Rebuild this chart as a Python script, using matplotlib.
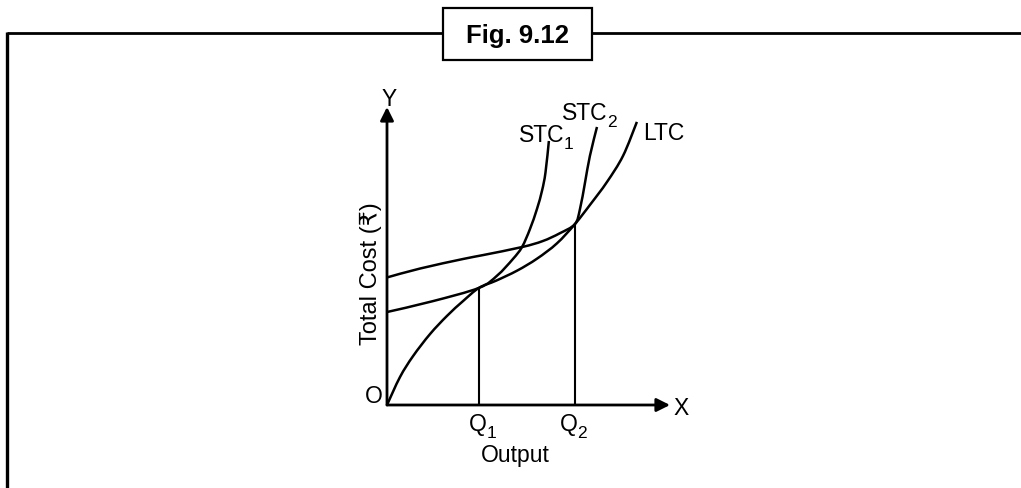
import matplotlib
matplotlib.use('Agg')
import matplotlib.pyplot as plt
from matplotlib.patches import Rectangle, PathPatch
from matplotlib.path import Path

plt.rcParams['font.family'] = ['Liberation Sans', 'DejaVu Sans']

# ---- data (output units on x, cost units on y) ----
ltc_x = [0.00, 0.46, 0.92, 1.52, 2.12, 2.69, 3.25, 3.85, 4.60, 5.30, 6.00, 6.64, 7.20, 7.77, 8.34, 8.83]
ltc_y = [0.00, 0.94, 1.64, 2.38, 2.99, 3.49, 3.93, 4.17, 4.51, 4.91, 5.42, 6.07, 6.75, 7.48, 8.36, 9.50]

stc1_x = [0.00, 1.60, 3.25, 3.90, 4.45, 4.77, 5.05, 5.30, 5.48, 5.60, 5.72]
stc1_y = [3.12, 3.48, 3.93, 4.35, 4.90, 5.30, 5.90, 6.58, 7.20, 7.80, 8.86]

stc2_x = [0.00, 1.17, 2.69, 3.39, 4.77, 5.50, 6.10, 6.64, 6.82, 7.00, 7.17, 7.42]
stc2_y = [4.28, 4.58, 4.90, 5.03, 5.30, 5.50, 5.76, 6.07, 6.58, 7.48, 8.36, 9.33]

q_x = [3.25, 6.64]          # Q1, Q2
q_y = [3.93, 6.07]          # tangency heights
q_names = ['Q', 'Q']
q_subs = ['1', '2']
curve_names = ['STC', 'STC', 'LTC']
curve_subs = ['1', '2', '']
title = 'Fig. 9.12'
ylabel = 'Total Cost (\u20b9)'
xlabel = 'Output'


def smooth_path(xs, ys):
    """Catmull-Rom curve through the points, expressed as cubic Bezier path."""
    pts = list(zip(xs, ys))
    n = len(pts)
    verts = [pts[0]]
    codes = [Path.MOVETO]
    for i in range(n - 1):
        p0 = pts[i - 1] if i > 0 else pts[i]
        p1 = pts[i]
        p2 = pts[i + 1]
        p3 = pts[i + 2] if i + 2 < n else pts[i + 1]
        c1 = (p1[0] + (p2[0] - p0[0]) / 6, p1[1] + (p2[1] - p0[1]) / 6)
        c2 = (p2[0] - (p3[0] - p1[0]) / 6, p2[1] - (p3[1] - p1[1]) / 6)
        verts += [c1, c2, p2]
        codes += [Path.CURVE4] * 3
    return Path(verts, codes)


W, H = 1021, 489
fig = plt.figure(figsize=(W / 100, H / 100), dpi=100)

# ---- frame overlay in pixel coordinates ----
fax = fig.add_axes([0, 0, 1, 1])
fax.set_xlim(0, W)
fax.set_ylim(H, 0)
fax.axis('off')
fax.plot([7, 443], [33.5, 33.5], color='black', lw=2.0, solid_capstyle='butt')
fax.plot([592, W], [33.5, 33.5], color='black', lw=2.0, solid_capstyle='butt')
fax.plot([7, 7], [32.5, H], color='black', lw=2.4, solid_capstyle='butt')
fax.add_patch(Rectangle((443, 8.5), 149, 52.5, fill=False, edgecolor='black', lw=1.6))
fax.text(517, 42.5, title, ha='center', va='baseline', fontsize=18.5, fontweight='bold')

# ---- chart axes ----
ox, oy = 387, 406
ax = fig.add_axes([ox / W, (H - oy) / H, 283 / W, 298 / H])
ax.set_xlim(0, 10)
ax.set_ylim(0, 10)
ax.axis('off')

arrow = dict(arrowstyle='-|>', lw=2.0, color='black', mutation_scale=20,
             shrinkA=0, shrinkB=0)
ax.annotate('', xy=(10, 0), xytext=(0, 0), arrowprops=arrow, annotation_clip=False)
ax.annotate('', xy=(0, 10), xytext=(0, 0), arrowprops=arrow, annotation_clip=False)

lw = 1.8
for xs, ys in [(ltc_x, ltc_y), (stc1_x, stc1_y), (stc2_x, stc2_y)]:
    ax.add_patch(PathPatch(smooth_path(xs, ys), facecolor='none', edgecolor='black',
                           lw=lw, capstyle='butt', clip_on=False))
ax.vlines(q_x, [0, 0], q_y, color='black', lw=1.5)

fs = 16.5
sub_fs = 12.5


def label(x, y, main, sub, ha='left'):
    t = ax.text(x, y, main, fontsize=fs, ha=ha, va='baseline')
    if sub:
        ax.annotate(sub, xy=(1, 0), xycoords=t, xytext=(-0.2, -1.6),
                    textcoords='offset points', fontsize=sub_fs,
                    ha='left', va='baseline')
    return t


label(4.66, 8.87, curve_names[0], curve_subs[0])
label(6.17, 9.60, curve_names[1], curve_subs[1])
label(9.05, 8.93, curve_names[2], curve_subs[2])

label(2.90, -0.84, q_names[0], q_subs[0])
label(6.11, -0.84, q_names[1], q_subs[1])

ax.text(4.52, -1.87, xlabel, fontsize=fs, ha='center', va='baseline')
ax.text(-0.57, 4.43, ylabel, fontsize=17, ha='center', va='center', rotation=90)
ax.text(0.07, 10.07, 'Y', fontsize=fs, ha='center', va='baseline')
ax.text(-0.46, 0.10, 'O', fontsize=fs, ha='center', va='baseline')
ax.text(10.41, -0.30, 'X', fontsize=fs, ha='center', va='baseline')

fig.savefig('out.png', dpi=100)
